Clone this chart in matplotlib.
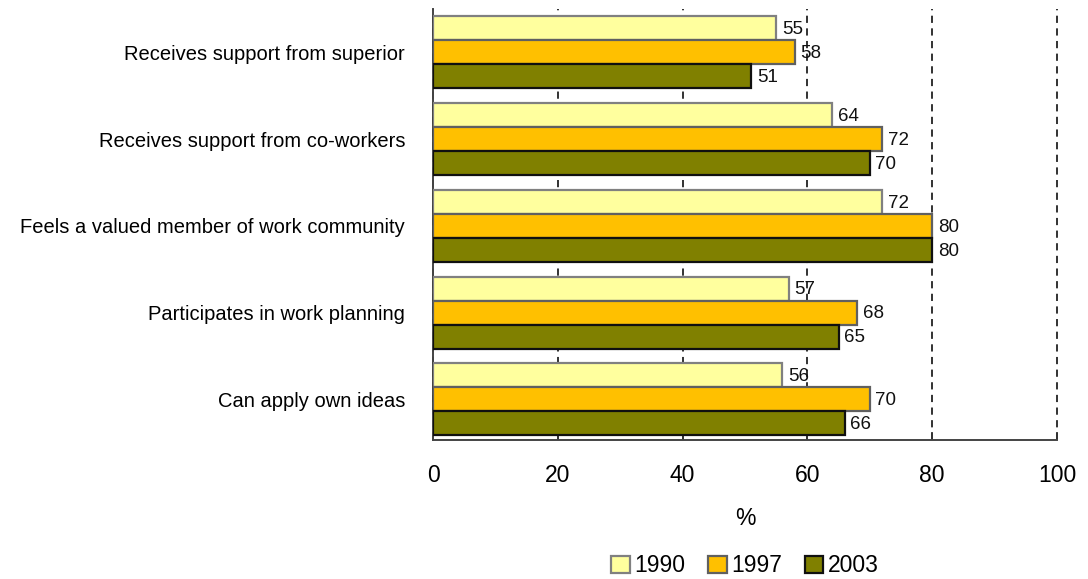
import matplotlib
matplotlib.use("Agg")
import matplotlib.pyplot as plt
import numpy as np

# Share of employees (%) reporting each kind of workplace support
categories = [
    "Receives support from superior",
    "Receives support from co-workers",
    "Feels a valued member of work community",
    "Participates in work planning",
    "Can apply own ideas",
]
years = ["1990", "1997", "2003"]
values_1990 = [55, 64, 72, 57, 56]
values_1997 = [58, 72, 80, 68, 70]
values_2003 = [51, 70, 80, 65, 66]
x_ticks = [0, 20, 40, 60, 80, 100]

series = [values_1990, values_1997, values_2003]
fills = ["#FFFF9E", "#FFC000", "#808000"]
edges = ["#808080", "#606060", "#101010"]

plt.rcParams["font.family"] = ["Liberation Sans", "DejaVu Sans"]

fig = plt.figure(figsize=(10.88, 5.79), dpi=100)
ax = fig.add_axes([0.398, 0.240, 0.5735, 0.7445])

y = np.arange(len(categories))
h = 0.277
offsets = [-h, 0, h]

for vals, off, fc, ec, yr in zip(series, offsets, fills, edges, years):
    bars = ax.barh(y + off, vals, height=h, color=fc, edgecolor=ec,
                   linewidth=1.6, label=yr, zorder=3)
    for b, v in zip(bars, vals):
        ax.annotate(str(v), (v, b.get_y() + b.get_height() / 2),
                    xytext=(4, -1), textcoords="offset points",
                    ha="left", va="center", fontsize=13.5, color="#111111",
                    zorder=4)

ax.set_xlim(0, 100)
ax.set_ylim(4.47, -0.5)
ax.set_xticks(x_ticks)
ax.set_xticklabels([str(t) for t in x_ticks], fontsize=16.5)
ax.set_yticks(y)
ax.set_yticklabels(categories, fontsize=14.5)

ax.tick_params(axis="y", length=0, pad=20)
ax.tick_params(axis="x", direction="in", length=6, width=1.2,
               color="#333333", pad=17)

ax.xaxis.grid(True, linestyle=(0, (4, 3)), color="#222222", linewidth=1.3,
              zorder=0)
for gl in ax.get_xgridlines():
    gl.set_clip_on(False)
ax.set_axisbelow(True)

for side in ["top", "right"]:
    ax.spines[side].set_visible(False)
for side in ["left", "bottom"]:
    ax.spines[side].set_color("#444444")
    ax.spines[side].set_linewidth(1.4)

ax.set_xlabel("%", fontsize=16.5, labelpad=15)

fig.legend(loc="center", bbox_to_anchor=(745 / 1088, 1 - 566 / 579),
           ncol=3, frameon=False, fontsize=16.5, handlelength=0.8,
           handleheight=0.8, handletextpad=0.2, columnspacing=1.0)

fig.savefig("out.png", dpi=100, facecolor="white")
